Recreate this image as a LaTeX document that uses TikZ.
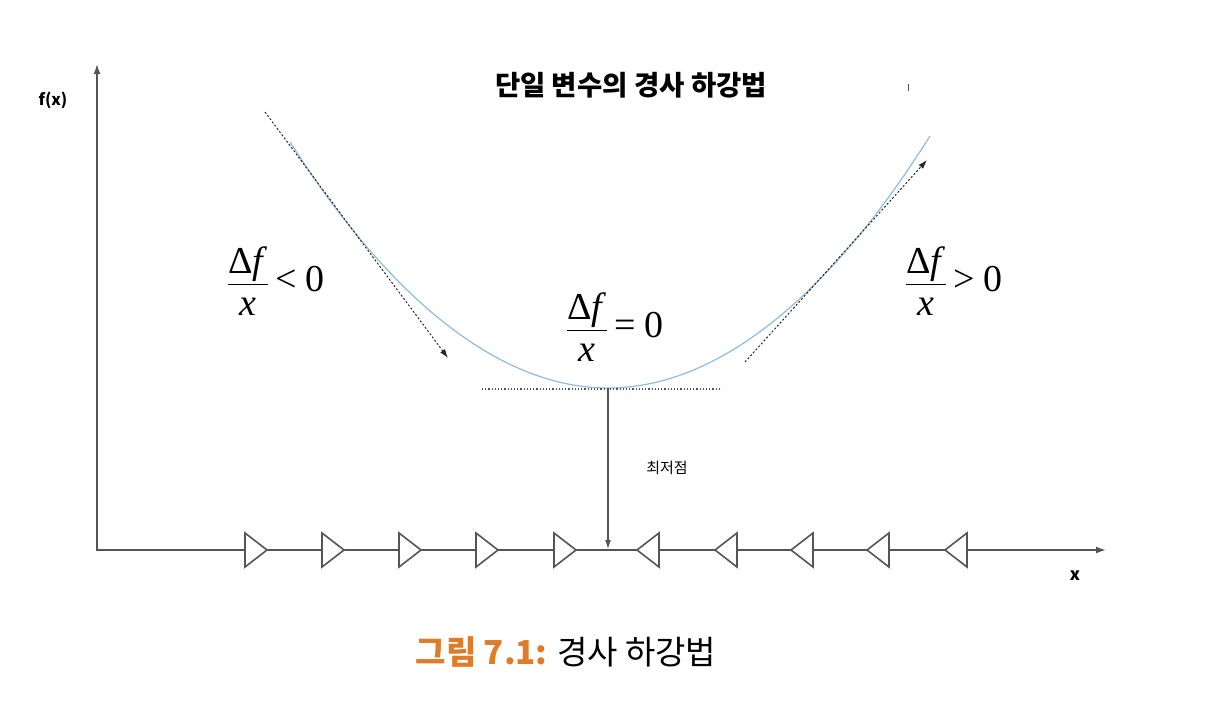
\documentclass[tikz,border=0pt]{standalone}
\usepackage{fontspec}
\usepackage{amsmath}
\newfontfamily\krfont{Noto Sans CJK KR}
\newfontfamily\timesfont{Liberation Serif}
\usepackage{tikz}
\usetikzlibrary{arrows.meta,positioning}
\definecolor{curveblue}{HTML}{8DBCE3}
\definecolor{axisgray}{HTML}{555555}
\definecolor{captionorange}{HTML}{E07B2A}
\newcommand{\axiswidth}{1.6pt}
\newcommand{\triw}{22}
\newcommand{\trih}{17}
\newcommand{\rtri}[1]{\filldraw[tri] (#1,533) -- ++(\triw,\trih) -- ++(-\triw,\trih) -- cycle;}
\newcommand{\ltri}[1]{\filldraw[tri] (#1,533) -- ++(-\triw,\trih) -- ++(\triw,\trih) -- cycle;}
\newcommand{\slopefrac}[1]{$\displaystyle\frac{\text{Δ\textit{f}}\rule[-6pt]{0pt}{6pt}}{\rule{0pt}{27pt}\text{\textit{x}}}\text{\,#1 0}$}

\begin{document}
\begin{tikzpicture}[x=1pt,y=-1pt,
  axis/.style={draw=axisgray,line width=\axiswidth},
  tri/.style={draw=axisgray,fill=white,line width=\axiswidth,line join=miter},
  slope/.style={black!85,line width=1pt,dash pattern=on 2pt off 2pt,-{Latex[length=9pt,width=6pt]}},
  frac/.style={font=\timesfont\fontsize{38}{44}\selectfont,inner sep=0pt}]
\useasboundingbox (0,0) rectangle (1210,710);
%axes
\coordinate (ytop) at (97,64);
\coordinate (origin) at (97,550);
\coordinate (xend) at (1106,550);
\draw[axis,{Latex[length=10pt,width=7pt]}-{Latex[length=10pt,width=7pt]}] (ytop) -- (origin) -- (xend);
\node[font=\krfont\bfseries\fontsize{16}{18}\selectfont] (fx) at (53,100) {f(x)};
\node[font=\krfont\bfseries\fontsize{17}{18}\selectfont] (xlabel) at (1075,576) {x};
%steps
\rtri{245}
\rtri{322}
\rtri{399}
\rtri{476}
\rtri{554}
\ltri{659}
\ltri{737}
\ltri{813}
\ltri{889}
\ltri{967}
%curve
\coordinate (cstart) at (290,142);
\coordinate (cmin) at (608,388);
\coordinate (cend) at (930,136);
\draw[curveblue,line width=1.2pt] (cstart) parabola bend (cmin) (cend);
\coordinate (tanl) at (482,389);
\coordinate (tanr) at (722,389);
\draw[axisgray,line width=1.2pt,dotted] (tanl) -- (tanr);
\coordinate (minfoot) at (608,549);
\draw[axisgray,line width=1.2pt,-{Latex[length=9pt,width=6pt]}] (cmin) -- (minfoot);
\node[font=\krfont\fontsize{15}{17}\selectfont] (lowest) at (667,468) {최저점};
%slopes
\coordinate (ls) at (265,112);
\coordinate (le) at (448,358);
\coordinate (rs) at (745,362);
\coordinate (re) at (927,160);
\draw[slope] (ls) -- (le);
\draw[slope] (rs) -- (re);
\node[frac] (neg) at (276,281) {\slopefrac{<}};
\node[frac] (zero) at (615,327) {\slopefrac{=}};
\node[frac] (pos) at (954,281) {\slopefrac{>}};
%title
\node[font=\krfont\bfseries\fontsize{27.5}{30}\selectfont] (title) at (631,85) {단일 변수의 경사 하강법};
\draw[axisgray,line width=1pt] (908,84) -- (908,91);
\node[font=\krfont\fontsize{33}{36}\selectfont] (caption) at (566,652) {{\color{captionorange}\bfseries 그림 7.1:} 경사 하강법};
\end{tikzpicture}
\end{document}
